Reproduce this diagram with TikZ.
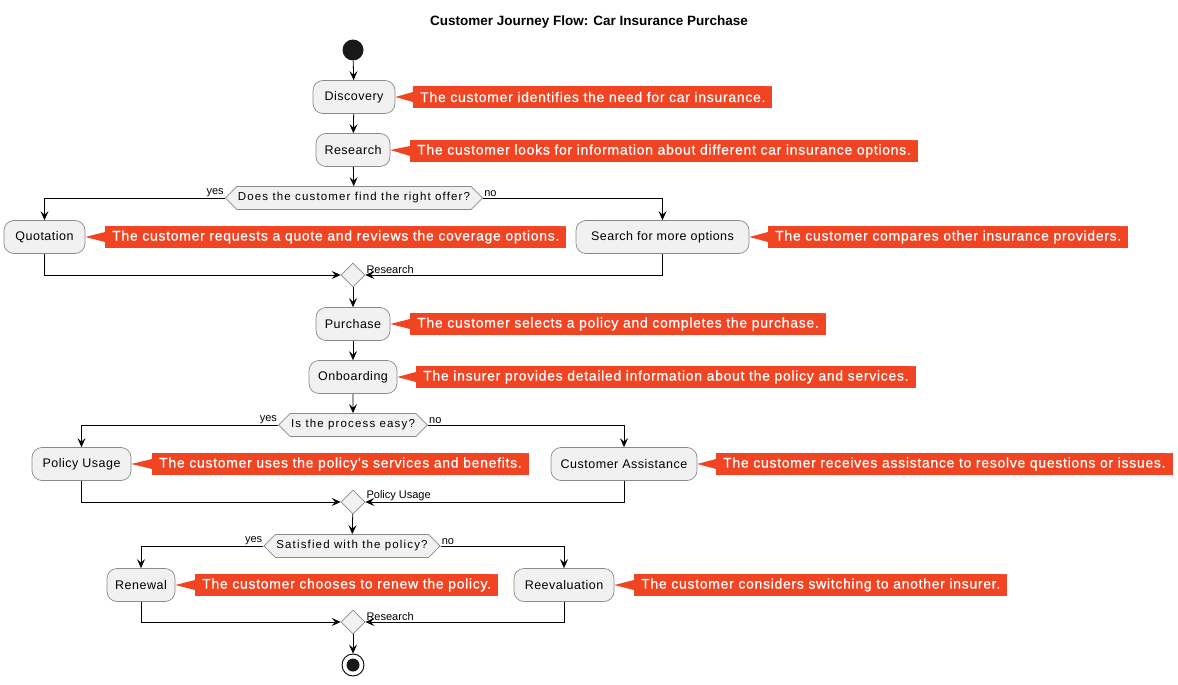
\documentclass[tikz,border=0pt]{standalone}
\usepackage{fontspec}
\setmainfont{Liberation Sans}
\newfontfamily\boxfont[LetterSpace=4]{Liberation Sans}
\newfontfamily\decfont[LetterSpace=10]{Liberation Sans}
\newfontfamily\notefont[LetterSpace=5,FakeBold=0.6]{Liberation Sans}
\usetikzlibrary{shapes.geometric,shapes.symbols,arrows.meta,calc}
\definecolor{notecol}{HTML}{F04422}
\definecolor{notefold}{HTML}{C8391C}
\definecolor{boxfill}{HTML}{F1F1F1}
\definecolor{boxline}{HTML}{8A8A8A}
\begin{document}
\begin{tikzpicture}[x=1pt,y=-1pt,
  act/.style={draw=boxline, line width=0.7pt, fill=boxfill, rounded corners=10pt,
    minimum height=33pt, minimum width=#1, inner xsep=3pt, font=\boxfont\fontsize{12.5}{14}\selectfont},
  dec/.style={signal, signal to=east and west, draw=boxline, line width=0.7pt, fill=boxfill,
    minimum height=23pt, inner xsep=1pt, inner ysep=2pt, font=\decfont\fontsize{11.5}{13}\selectfont},
  merge/.style={diamond, draw=boxline, line width=0.7pt, fill=boxfill, minimum size=24pt, inner sep=0pt},
  note/.style={fill=notecol, text=white, inner xsep=7pt, minimum height=22pt,
    font=\notefont\fontsize{14}{16}\selectfont, anchor=west,
    path picture={
      \fill[white] ([xshift=-7pt]path picture bounding box.north east) -- (path picture bounding box.north east) -- ([yshift=7pt]path picture bounding box.north east) -- cycle;
      \fill[notefold] ([xshift=-7pt]path picture bounding box.north east) -- ([xshift=-7pt,yshift=7pt]path picture bounding box.north east) -- ([yshift=7pt]path picture bounding box.north east) -- cycle;}},
  ptr/.style={fill=notecol},
  conn/.style={draw=black, line width=0.8pt, -{Stealth[length=9pt,width=8pt,inset=3.5pt]}},
  lbl/.style={font=\fontsize{11}{13}\selectfont, inner sep=1pt}
]
\useasboundingbox (0,0) rectangle (1178,685);

\node[font=\bfseries\fontsize{13.5}{16}\selectfont] (title) at (589,22) {Customer Journey Flow: Car Insurance Purchase};

\node[circle, fill=black!90, minimum size=21pt, inner sep=0pt] (start) at (353,50) {};
\node[act=82pt] (disc) at (354,97) {Discovery};
\node[act=74pt] (res) at (353,150) {Research};
\node[dec] (d1) at (354,198) {Does the customer find the right offer?};
\node[act=81pt] (quot) at (44.5,237) {Quotation};
\node[act=173pt] (search) at (662.5,237) {Search for more options};
\node[merge] (m1) at (353,275) {};
\node[act=74pt] (purch) at (353,324) {Purchase};
\node[act=88pt] (onb) at (353,377) {Onboarding};
\node[dec] (d2) at (353,425) {Is the process easy?};
\node[act=99pt] (pol) at (81.5,464) {Policy Usage};
\node[act=146pt] (ca) at (624,464) {Customer Assistance};
\node[merge] (m2) at (353,502) {};
\node[dec] (d3) at (352,546) {Satisfied with the policy?};
\node[act=68pt] (ren) at (141,585) {Renewal};
\node[act=100pt] (reev) at (564,585) {Reevaluation};
\node[merge] (m3) at (353,622) {};
\node[circle, draw=black, line width=0.9pt, fill=white, minimum size=22pt, inner sep=0pt] (end) at (353,665) {};
\node[circle, fill=black!90, minimum size=13pt, inner sep=0pt] (endin) at (end.center) {};

% notes
\node[note] (n1) at (413,97) {The customer identifies the need for car insurance.};
\node[note] (n2) at (410,151) {The customer looks for information about different car insurance options.};
\node[note] (n3) at (105,237) {The customer requests a quote and reviews the coverage options.};
\node[note] (n4) at (768,237) {The customer compares other insurance providers.};
\node[note] (n5) at (410,324) {The customer selects a policy and completes the purchase.};
\node[note] (n6) at (416,377) {The insurer provides detailed information about the policy and services.};
\node[note] (n7) at (152,464) {The customer uses the policy's services and benefits.};
\node[note] (n8) at (716,464) {The customer receives assistance to resolve questions or issues.};
\node[note] (n9) at (195,585) {The customer chooses to renew the policy.};
\node[note] (n10) at (634,585) {The customer considers switching to another insurer.};
\foreach \b/\n in {disc/n1,res/n2,quot/n3,search/n4,purch/n5,onb/n6,pol/n7,ca/n8,ren/n9,reev/n10}{
  \fill[ptr] (\b.east) -- ([yshift=-5pt]\n.west) -- ([yshift=5pt]\n.west) -- cycle;
}

% connectors
\draw[conn] (start) -- (disc);
\draw[conn] (disc) -- (res);
\draw[conn] (res) -- (d1);
\draw[conn] (d1.west) -| (quot.north);
\draw[conn] (d1.east) -| (search.north);
\draw[conn] (quot.south) |- (m1.west);
\draw[conn] (search.south) |- (m1.east);
\draw[conn] (m1) -- (purch);
\draw[conn] (purch) -- (onb);
\draw[conn] (onb) -- (d2);
\draw[conn] (d2.west) -| (pol.north);
\draw[conn] (d2.east) -| (ca.north);
\draw[conn] (pol.south) |- (m2.west);
\draw[conn] (ca.south) |- (m2.east);
\draw[conn] (m2) -- (d3);
\draw[conn] (d3.west) -| (ren.north);
\draw[conn] (d3.east) -| (reev.north);
\draw[conn] (ren.south) |- (m3.west);
\draw[conn] (reev.south) |- (m3.east);
\draw[conn] (m3) -- (end);

% labels
\node[lbl, anchor=south east] (y1) at (d1.west) {yes};
\node[lbl, anchor=south west] (no1) at (d1.east) {no};
\node[lbl, anchor=south east] (y2) at (d2.west) {yes};
\node[lbl, anchor=south west] (no2) at (d2.east) {no};
\node[lbl, anchor=south east] (y3) at (d3.west) {yes};
\node[lbl, anchor=south west] (no3) at (d3.east) {no};
\node[lbl, anchor=south west] (ml1) at (m1.east) {Research};
\node[lbl, anchor=south west] (ml2) at (m2.east) {Policy Usage};
\node[lbl, anchor=south west] (ml3) at (m3.east) {Research};
\end{tikzpicture}
\end{document}
